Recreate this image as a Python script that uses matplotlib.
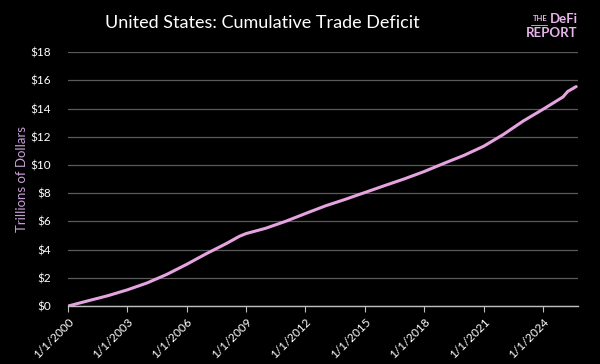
import matplotlib.pyplot as plt
import matplotlib.dates as mdates
import numpy as np
import datetime as dt

# Cumulative US trade deficit (trillions of dollars)
dates = [
    "2000-01-01", "2001-01-01", "2002-01-01", "2003-01-01", "2004-01-01",
    "2005-01-01", "2006-01-01", "2007-01-01", "2008-01-01", "2008-09-01",
    "2009-01-01", "2010-01-01", "2011-01-01", "2012-01-01", "2013-01-01",
    "2014-01-01", "2015-01-01", "2016-01-01", "2017-01-01", "2018-01-01",
    "2019-01-01", "2020-01-01", "2021-01-01", "2022-01-01", "2023-01-01",
    "2024-01-01", "2025-01-01", "2025-02-01", "2025-03-01", "2025-04-01",
    "2025-05-01", "2025-06-01", "2025-07-01", "2025-08-01", "2025-09-01",
]
deficit = [
    0.00, 0.37, 0.73, 1.15, 1.64,
    2.25, 2.96, 3.72, 4.43, 4.95,
    5.14, 5.52, 6.01, 6.56, 7.10,
    7.56, 8.05, 8.54, 9.02, 9.54,
    10.12, 10.68, 11.33, 12.17, 13.12,
    13.95, 14.82, 14.96, 15.08, 15.22,
    15.28, 15.35, 15.41, 15.49, 15.55,
]
tick_years = [2000, 2003, 2006, 2009, 2012, 2015, 2018, 2021, 2024]
y_ticks = [0, 2, 4, 6, 8, 10, 12, 14, 16, 18]

x = [dt.datetime.strptime(d, "%Y-%m-%d") for d in dates]

plt.rcParams['font.family'] = ['Lato', 'DejaVu Sans']

fig = plt.figure(figsize=(6, 3.64), dpi=100, facecolor='black')
ax = fig.add_axes([0.113, 0.159, 0.850, 0.698])
ax.set_facecolor('black')

ax.plot(x, deficit, color='#E5A3E0', linewidth=2.2, solid_capstyle='round', zorder=3)

ax.set_ylim(0, 18)
ax.set_yticks(y_ticks)
ax.set_yticklabels([f'${v}' for v in y_ticks], color='white', fontsize=8.5)
ax.set_xlim(dt.datetime(2000, 1, 1), dt.datetime(2025, 10, 1))
ax.set_xticks([dt.datetime(yr, 1, 1) for yr in tick_years])
ax.set_xticklabels([f'1/1/{yr}' for yr in tick_years], rotation=45, ha='right',
                   rotation_mode='anchor', color='white', fontsize=8.5)

ax.grid(axis='y', color='#5a5a5a', linewidth=0.9)
ax.set_axisbelow(True)
for side in ['top', 'right', 'left']:
    ax.spines[side].set_visible(False)
ax.spines['bottom'].set_color('#bfbfbf')
ax.spines['bottom'].set_linewidth(1.0)
ax.tick_params(axis='y', length=0, pad=12)
ax.tick_params(axis='x', length=4, color='#bfbfbf', pad=3)

ax.set_ylabel('Trillions of Dollars', color='#C9A0D8', fontsize=9.5, labelpad=2)

fig.text(0.437, 0.938, 'United States: Cumulative Trade Deficit', color='white',
         fontsize=13, ha='center', va='center')

# logo
fig.text(0.912, 0.948, 'THE', color='#E8B4EC', fontsize=5.5, ha='right', va='center',
         fontweight='bold')
fig.lines.append(plt.Line2D([0.885, 0.912], [0.932, 0.932], transform=fig.transFigure,
                            color='#E8B4EC', linewidth=0.6))
fig.text(0.916, 0.948, 'DeFi', color='#E8B4EC', fontsize=9.5, ha='left', va='center',
         fontweight='bold')
fig.text(0.877, 0.908, 'REPORT', color='#E8B4EC', fontsize=9.5, ha='left', va='center',
         fontweight='bold')

plt.savefig('out.png', dpi=100, facecolor='black')
